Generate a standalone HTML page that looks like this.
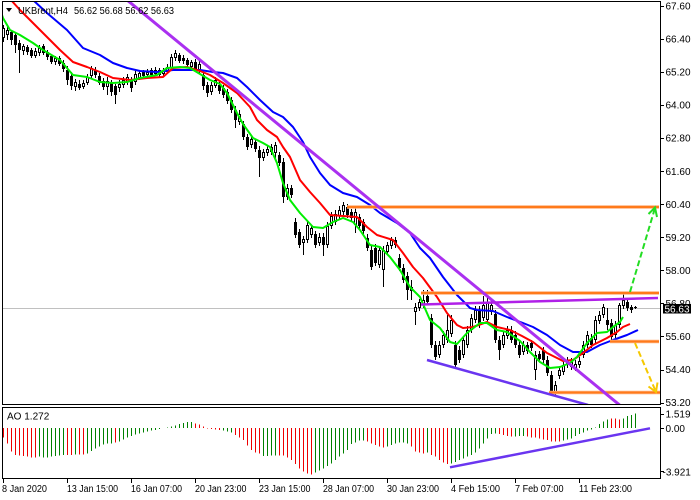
<!DOCTYPE html>
<html>
<head>
<meta charset="utf-8">
<style>
html,body{margin:0;padding:0;background:#fff;width:700px;height:500px;overflow:hidden}
svg{display:block}
text{font-family:"Liberation Sans",Arial,sans-serif;font-size:10px;fill:#000}
</style>
</head>
<body>
<svg width="700" height="500" viewBox="0 0 700 500" xmlns="http://www.w3.org/2000/svg">
<defs>
<clipPath id="cm"><rect x="3" y="2" width="658" height="402.5"/></clipPath>
<clipPath id="ca"><rect x="3" y="408" width="658" height="70"/></clipPath>
</defs>
<rect width="700" height="500" fill="#fff"/>

<g clip-path="url(#cm)">
  <line x1="3" y1="308.5" x2="661" y2="308.5" stroke="#c0c0c0" stroke-width="1"/>

  <!-- Candles -->
  <g shape-rendering="crispEdges" fill="none">
  <path stroke="#000" stroke-width="1" d="M3.5 25V42M7.5 27V40M11.5 30V45M15.5 33V53M19.5 40V73M23.5 44V55M27.5 45V55M31.5 48V58M35.5 48V58M39.5 45V56M43.5 44V55M47.5 50V60M51.5 54V64M55.5 56V65M59.5 56V66M63.5 60V72M67.5 66V85M71.5 72V90M75.5 79V91M79.5 80V90M83.5 80V89M87.5 74V85M91.5 66V78M95.5 67V78M99.5 73V85M103.5 78V90M107.5 77V95M111.5 80V96M115.5 84V104M119.5 80V92M123.5 77V88M127.5 74V85M131.5 77V92M135.5 71V85M139.5 70V80M143.5 70V79M147.5 69V78M151.5 68V77M155.5 67V76M159.5 68V78M163.5 68V76M167.5 64V74M171.5 54V70M175.5 50V61M179.5 53V63M183.5 55V64M187.5 58V67M191.5 60V70M195.5 59V72M199.5 61V73M203.5 70V90M207.5 82V97M211.5 82V95M215.5 77V88M219.5 82V94M223.5 85V98M227.5 89V104M231.5 97V113M235.5 106V128M239.5 110V125M243.5 121V140M247.5 134V150M251.5 136V148M255.5 139V152M259.5 146V177M263.5 149V161M267.5 146V156M271.5 144V155M275.5 142V158M279.5 152V166M283.5 158V203M287.5 184V200M291.5 185V198M295.5 218V238M299.5 229V248M303.5 236V255M307.5 222V243M311.5 225V238M315.5 231V248M319.5 233V246M323.5 233V256M327.5 222V248M331.5 212V229M335.5 210V225M339.5 206V220M343.5 202V215M347.5 204V218M351.5 209V221M355.5 208V233M359.5 214V229M363.5 219V234M367.5 234V251M371.5 246V270M375.5 244V266M379.5 246V268M383.5 246V287M387.5 242V255M391.5 237V249M395.5 237V248M399.5 254V271M403.5 264V283M407.5 272V300M411.5 280V300M415.5 303V325M419.5 299V311M423.5 290V308M427.5 290V305M431.5 314V348M435.5 341V360M439.5 341V358M443.5 331V348M447.5 315V343M451.5 315V337M455.5 341V368M459.5 346V363M463.5 336V358M467.5 326V348M471.5 314V333M475.5 306V323M479.5 306V328M483.5 296V321M487.5 296V323M491.5 301V315M495.5 310V343M499.5 336V360M503.5 331V348M507.5 326V339M511.5 326V343M515.5 331V348M519.5 341V358M523.5 341V355M527.5 342V354M531.5 340V351M535.5 351V380M539.5 351V362M543.5 347V363M547.5 356V376M551.5 371V395M555.5 381V396M559.5 366V379M563.5 362V375M567.5 357V368M571.5 358V370M575.5 360V371M579.5 357V368M583.5 341V358M587.5 331V348M591.5 334V348M595.5 316V343M599.5 311V324M603.5 304V318M607.5 308V330M611.5 319V340M615.5 321V338M619.5 303V328M623.5 292V309M627.5 299V311M631.5 305V313M635.5 306V309"/>
  <path stroke="#000" stroke-width="3" d="M3.5 28V38M7.5 30V35M11.5 32V40M15.5 35V45M19.5 43V50M23.5 46V51M27.5 47V52M31.5 50V56M35.5 51V56M39.5 48V53M43.5 46V53M47.5 52V57M51.5 56V62M55.5 58V62M59.5 58V64M63.5 63V69M67.5 70V80M71.5 76V86M75.5 82V87M79.5 84V88M83.5 83V87M87.5 77V83M91.5 68V76M95.5 70V75M99.5 76V83M103.5 81V87M107.5 81V87M111.5 83V92M115.5 86V95M119.5 84V88M123.5 80V85M127.5 77V82M131.5 80V88M135.5 74V82M139.5 73V78M143.5 72V76M147.5 72V75M151.5 70V75M155.5 70V74M159.5 70V75M163.5 71V74M167.5 67V72M171.5 57V68M175.5 53V58M179.5 55V61M183.5 58V61M187.5 60V65M191.5 62V67M195.5 62V70M199.5 64V70M203.5 75V86M207.5 85V93M211.5 85V92M215.5 80V86M219.5 85V91M223.5 88V95M227.5 92V101M231.5 100V110M235.5 110V120M239.5 114V122M243.5 124V137M247.5 137V147M251.5 139V145M255.5 142V149M259.5 150V158M263.5 152V158M267.5 149V153M271.5 147V152M275.5 145V153M279.5 155V163M283.5 162V197M287.5 188V197M291.5 188V195M295.5 222V235M299.5 232V245M303.5 239V243M307.5 225V240M311.5 228V235M315.5 234V245M319.5 237V243M323.5 237V245M327.5 226V245M331.5 216V226M335.5 214V222M339.5 210V216M343.5 205V212M347.5 207V215M351.5 212V218M355.5 212V225M359.5 217V226M363.5 222V231M367.5 238V248M371.5 250V267M375.5 248V263M379.5 250V265M383.5 250V270M387.5 245V252M391.5 240V246M395.5 240V245M399.5 258V268M403.5 268V280M407.5 276V290M411.5 287V291M415.5 307V312M419.5 302V308M423.5 300V305M427.5 296V302M431.5 318V345M435.5 345V357M439.5 345V355M443.5 335V345M447.5 330V340M451.5 320V334M455.5 345V365M459.5 350V360M463.5 340V355M467.5 330V345M471.5 318V330M475.5 310V320M479.5 310V325M483.5 305V318M487.5 303V320M491.5 305V312M495.5 314V340M499.5 340V350M503.5 335V345M507.5 330V336M511.5 330V340M515.5 335V345M519.5 345V355M523.5 345V352M527.5 345V351M531.5 343V348M535.5 355V370M539.5 354V359M543.5 350V360M547.5 360V373M551.5 375V393M555.5 385V393M559.5 370V376M563.5 365V372M567.5 360V365M571.5 362V367M575.5 364V368M579.5 361V365M583.5 345V355M587.5 335V345M591.5 338V345M595.5 320V340M599.5 315V321M603.5 307V315M607.5 320V325M611.5 323V337M615.5 325V335M619.5 305V325M623.5 300V306M627.5 302V308M631.5 307V310M635.5 307V308"/>
  <path stroke="#fff" stroke-width="1" d="M3.5 29V37M7.5 31V34M23.5 47V50M35.5 52V55M39.5 49V52M55.5 59V61M75.5 83V86M83.5 84V86M87.5 78V82M91.5 69V75M107.5 82V86M119.5 85V87M123.5 81V84M127.5 78V81M135.5 75V81M139.5 74V77M147.5 73V74M155.5 71V73M163.5 72V73M167.5 68V71M171.5 58V67M175.5 54V57M191.5 63V66M199.5 65V69M211.5 86V91M215.5 81V85M239.5 115V121M251.5 140V144M263.5 153V157M267.5 150V152M271.5 148V151M275.5 146V152M287.5 189V196M303.5 240V242M307.5 226V239M311.5 229V234M319.5 238V242M327.5 227V244M331.5 217V225M335.5 215V221M339.5 211V215M343.5 206V211M355.5 213V224M379.5 251V264M383.5 251V269M387.5 246V251M391.5 241V245M411.5 288V290M415.5 308V311M419.5 303V307M423.5 301V304M439.5 346V354M443.5 336V344M447.5 331V339M451.5 321V333M463.5 341V354M467.5 331V344M471.5 319V329M475.5 311V319M483.5 306V317M487.5 304V319M491.5 306V311M503.5 336V344M507.5 331V335M523.5 346V351M535.5 356V369M555.5 386V392M559.5 371V375M563.5 366V371M571.5 363V366M575.5 365V367M579.5 362V364M583.5 346V354M587.5 336V344M595.5 321V339M599.5 316V320M603.5 308V314M615.5 326V334M619.5 306V324M623.5 301V305"/>
  </g>

  <!-- Moving averages -->
  <polyline fill="none" stroke="#0000ff" stroke-width="2" stroke-linejoin="round" points="33,0 47,13 67,30 83,48 100,55 113,63 127,68 140,71 157,72 173,70 187,70 200,70 213,72 223,73 237,78 247,87 260,100 273,112 283,117 293,127 303,142 310,157 320,173 330,185 343,193 357,197 370,205 380,213 397,223 410,233 420,248 430,258 443,277 457,295 470,308 477,310 493,311 507,317 523,323 533,327 547,335 560,345 573,352 587,352 600,345 613,340 627,335 638,330"/>
  <polyline fill="none" stroke="#ff0000" stroke-width="2" stroke-linejoin="round" points="11,0 20,10 33,23 47,37 60,50 73,62 87,67 100,72 113,78 130,80 147,78 163,77 173,68 187,67 200,71 210,75 223,83 237,93 250,107 257,120 267,130 277,137 283,147 290,157 300,180 310,192 320,203 330,215 343,216 357,217 367,227 377,235 393,240 403,253 413,267 423,278 437,297 447,313 457,325 463,328 473,327 487,322 497,327 510,330 522,336 533,342 547,353 563,361 573,360 583,353 593,345 607,338 617,332 623,327 630,324"/>
  <polyline fill="none" stroke="#00ee00" stroke-width="2" stroke-linejoin="round" points="2,15 3,18 10,30 20,35 33,43 43,50 60,60 73,75 87,77 100,82 113,83 127,82 140,78 157,75 167,68 180,67 190,68 200,74 210,80 220,84 227,93 237,113 243,124 253,138 263,143 270,147 277,163 283,183 290,200 300,213 313,227 323,228 333,222 343,218 353,222 360,230 370,245 380,247 390,257 400,270 410,287 420,297 430,320 440,328 450,342 457,344 467,333 480,323 487,323 497,330 507,332 520,341 530,352 540,362 550,368 560,367 570,363 577,357 587,343 597,333 607,332 613,327 620,322 623,317"/>

  <!-- Orange horizontal levels -->
  <g stroke="#ffb380" stroke-width="3.5">
    <line x1="347" y1="207" x2="659" y2="207"/>
    <line x1="421" y1="293" x2="659" y2="293"/>
    <line x1="610" y1="341.5" x2="659" y2="341.5"/>
    <line x1="549" y1="392.5" x2="660" y2="392.5"/>
  </g>
  <g stroke="#ff7a1a" stroke-width="2">
    <line x1="347" y1="207" x2="659" y2="207"/>
    <line x1="421" y1="293" x2="659" y2="293"/>
    <line x1="610" y1="341.5" x2="659" y2="341.5"/>
    <line x1="549" y1="392.5" x2="660" y2="392.5"/>
  </g>

  <!-- Trend lines -->
  <line x1="127" y1="0" x2="622" y2="407" stroke="#aa30f0" stroke-width="3"/>
  <line x1="421" y1="304.5" x2="658" y2="298" stroke="#b020e8" stroke-width="2.5"/>
  <line x1="427" y1="360" x2="588" y2="405" stroke="#6a35f0" stroke-width="2.5"/>

  <!-- Arrows -->
  <g fill="none" stroke="#22dd22" stroke-width="2">
    <line x1="630" y1="292" x2="655" y2="208" stroke-dasharray="6 3"/>
    <polyline points="648.5,214 655,207.5 657,217"/>
  </g>
  <g fill="none" stroke="#f5c800" stroke-width="2">
    <line x1="635" y1="343" x2="656" y2="392" stroke-dasharray="6 3"/>
    <polyline points="648.5,386.5 656,392 657.5,382.5"/>
  </g>
</g>

<!-- Title -->
<polygon points="6,8 12,8 9,12" fill="#000"/>
<text x="18" y="14" textLength="50" lengthAdjust="spacingAndGlyphs">UKBrent,H4</text>
<text x="74" y="14" textLength="100" lengthAdjust="spacingAndGlyphs">56.62 56.68 56.62 56.63</text>

<!-- AO histogram -->
<g clip-path="url(#ca)" shape-rendering="crispEdges" fill="none" stroke-width="1">
<path stroke="#ee0000" d="M3.5 428V437.3M7.5 428V443.3M11.5 428V451.7M15.5 428V455M19.5 428V455.7M23.5 428V456M27.5 428V456.7M31.5 428V457.3M35.5 428V457.3M67.5 428V455M71.5 428V455M79.5 428V454.3M83.5 428V454.3M115.5 428V442.7M195.5 428V423.3M199.5 428V424.7M203.5 428V426.7M207.5 428V428.6M211.5 428V429M215.5 428V429.3M219.5 428V430M235.5 428V435M239.5 428V437.3M243.5 428V440M247.5 428V445.7M251.5 428V450M255.5 428V452.3M259.5 428V453.3M279.5 428V455.3M283.5 428V455.3M287.5 428V457.3M291.5 428V460M295.5 428V464M299.5 428V468.3M303.5 428V471.7M307.5 428V473.3M311.5 428V474.7M367.5 428V441.7M371.5 428V443.3M375.5 428V445M379.5 428V446.7M383.5 428V447.7M411.5 428V446.7M415.5 428V451.7M419.5 428V452.7M423.5 428V453.3M431.5 428V455M435.5 428V456.7M439.5 428V460M443.5 428V462.7M447.5 428V464M499.5 428V434M503.5 428V435M507.5 428V436M511.5 428V436.7M527.5 428V436.7M531.5 428V437.3M535.5 428V437.7M539.5 428V438.3M543.5 428V439.3M547.5 428V440M551.5 428V441.7M555.5 428V441.7M559.5 428V441.7M611.5 428V418.7M615.5 428V418.7M619.5 428V419.3"/>
<path stroke="#008000" d="M39.5 428V456.7M43.5 428V457.3M47.5 428V457.3M51.5 428V456.7M55.5 428V456M59.5 428V455.7M63.5 428V455M75.5 428V454.3M87.5 428V453.3M91.5 428V451M95.5 428V448.3M99.5 428V446.7M103.5 428V444.3M107.5 428V443.3M111.5 428V443.3M119.5 428V441.7M123.5 428V439.3M127.5 428V437.3M131.5 428V436M135.5 428V434.7M139.5 428V433.3M143.5 428V432.7M147.5 428V431.7M151.5 428V430.7M155.5 428V430M159.5 428V429M167.5 428V427.3M171.5 428V426.7M175.5 428V425.3M179.5 428V424M183.5 428V423M187.5 428V422M191.5 428V422M223.5 428V430.7M227.5 428V431.7M231.5 428V432.7M263.5 428V456M267.5 428V456M271.5 428V455.7M275.5 428V455.3M315.5 428V472.7M319.5 428V470.7M323.5 428V468.3M327.5 428V466M331.5 428V463.3M335.5 428V460M339.5 428V456.7M343.5 428V453.3M347.5 428V450M351.5 428V444M355.5 428V442.7M359.5 428V440.7M363.5 428V440.7M387.5 428V446.7M391.5 428V445M395.5 428V443.3M399.5 428V442.7M403.5 428V442.7M407.5 428V443.3M427.5 428V452.7M451.5 428V463.3M455.5 428V462M459.5 428V460M463.5 428V458.3M467.5 428V456.7M471.5 428V455M475.5 428V452.7M479.5 428V448.3M483.5 428V443.3M487.5 428V438.3M491.5 428V434M495.5 428V433.3M515.5 428V436.7M519.5 428V436M523.5 428V436M563.5 428V440.7M567.5 428V439.3M571.5 428V438.3M575.5 428V436M579.5 428V434M583.5 428V432.3M587.5 428V430.7M591.5 428V429.3M595.5 428V427.3M599.5 428V424M603.5 428V421.3M607.5 428V419.3M623.5 428V418.7M627.5 428V416M631.5 428V415M635.5 428V413.3"/>
</g>
<g clip-path="url(#ca)">
  <line x1="450" y1="467.3" x2="650" y2="428.3" stroke="#6a35f0" stroke-width="2.5"/>
</g>
<text x="7" y="419.5">AO 1.272</text>

<!-- Borders -->
<g fill="none" stroke="#000" stroke-width="1" shape-rendering="crispEdges">
  <rect x="2.5" y="1.5" width="658" height="403"/>
  <rect x="2.5" y="407.5" width="658" height="71"/>
</g>

<!-- Right axis ticks -->
<g fill="#000" shape-rendering="crispEdges">
  <rect x="661" y="6" width="3" height="1"/>
  <rect x="661" y="39" width="3" height="1"/>
  <rect x="661" y="72" width="3" height="1"/>
  <rect x="661" y="105" width="3" height="1"/>
  <rect x="661" y="138" width="3" height="1"/>
  <rect x="661" y="171" width="3" height="1"/>
  <rect x="661" y="204" width="3" height="1"/>
  <rect x="661" y="237" width="3" height="1"/>
  <rect x="661" y="270" width="3" height="1"/>
  <rect x="661" y="303" width="3" height="1"/>
  <rect x="661" y="336" width="3" height="1"/>
  <rect x="661" y="370" width="3" height="1"/>
  <rect x="661" y="403" width="3" height="1"/>
  <rect x="661" y="414" width="3" height="1"/>
  <rect x="661" y="428" width="3" height="1"/>
  <rect x="661" y="471" width="3" height="1"/>
</g>
<text x="665.5" y="9.5">67.60</text>
<text x="665.5" y="42.6">66.40</text>
<text x="665.5" y="75.6">65.20</text>
<text x="665.5" y="108.7">64.00</text>
<text x="665.5" y="141.7">62.80</text>
<text x="665.5" y="174.8">61.60</text>
<text x="665.5" y="207.9">60.40</text>
<text x="665.5" y="240.9">59.20</text>
<text x="665.5" y="274">58.00</text>
<text x="665.5" y="307">56.80</text>
<text x="665.5" y="340.1">55.60</text>
<text x="665.5" y="373.2">54.40</text>
<text x="665.5" y="406.2">53.20</text>

<!-- Price tag -->
<rect x="663" y="304" width="28" height="9.5" fill="#000"/>
<text x="664.5" y="312.3" style="fill:#fff">56.63</text>

<!-- AO axis labels -->
<text x="665.5" y="417.6">1.519</text>
<text x="665.5" y="431.8">0.00</text>
<text x="662.5" y="475.3">-3.921</text>

<!-- Time axis -->
<g fill="#000" shape-rendering="crispEdges">
  <rect x="3" y="479" width="1" height="4"/>
  <rect x="67" y="479" width="1" height="4"/>
  <rect x="131" y="479" width="1" height="4"/>
  <rect x="195" y="479" width="1" height="4"/>
  <rect x="259" y="479" width="1" height="4"/>
  <rect x="323" y="479" width="1" height="4"/>
  <rect x="387" y="479" width="1" height="4"/>
  <rect x="451" y="479" width="1" height="4"/>
  <rect x="515" y="479" width="1" height="4"/>
  <rect x="579" y="479" width="1" height="4"/>
</g>
<text x="2" y="492" textLength="45" lengthAdjust="spacingAndGlyphs">8 Jan 2020</text>
<text x="67" y="492" textLength="51" lengthAdjust="spacingAndGlyphs">13 Jan 15:00</text>
<text x="131" y="492" textLength="51" lengthAdjust="spacingAndGlyphs">16 Jan 07:00</text>
<text x="195" y="492" textLength="51.5" lengthAdjust="spacingAndGlyphs">20 Jan 23:00</text>
<text x="259" y="492" textLength="51.5" lengthAdjust="spacingAndGlyphs">23 Jan 15:00</text>
<text x="323" y="492" textLength="51" lengthAdjust="spacingAndGlyphs">28 Jan 07:00</text>
<text x="387" y="492" textLength="52" lengthAdjust="spacingAndGlyphs">30 Jan 23:00</text>
<text x="451" y="492" textLength="49" lengthAdjust="spacingAndGlyphs">4 Feb 15:00</text>
<text x="515" y="492" textLength="48.5" lengthAdjust="spacingAndGlyphs">7 Feb 07:00</text>
<text x="579" y="492" textLength="53" lengthAdjust="spacingAndGlyphs">11 Feb 23:00</text>
</svg>
</body>
</html>
